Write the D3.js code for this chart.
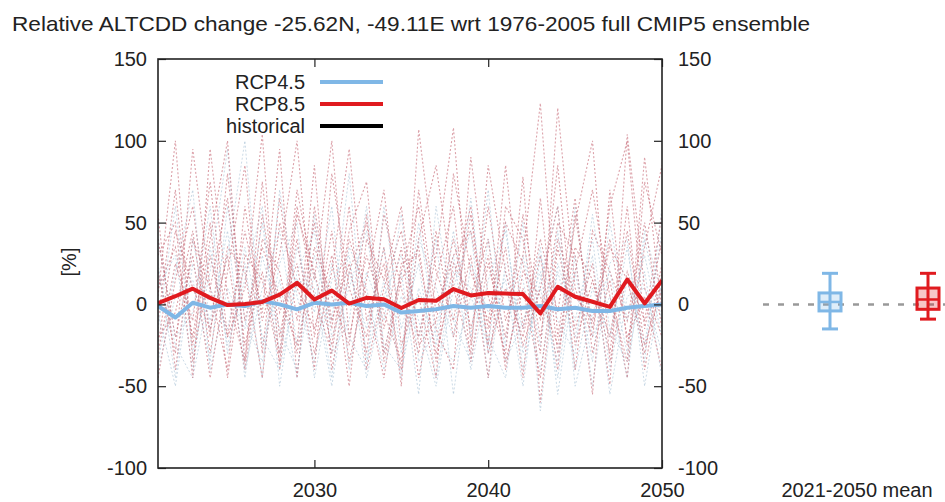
<!DOCTYPE html>
<html>
<head>
<meta charset="utf-8">
<script src="https://cdn.jsdelivr.net/npm/d3@7"></script>
<style>
  html, body { margin: 0; padding: 0; background: #fff; }
  svg { display: block; font-family: "Liberation Sans", Arial, Helvetica, sans-serif; }
</style>
</head>
<body>
<svg id="chart" width="945" height="502"></svg>
<script>
// ---------------- DATA ----------------
const title = "Relative ALTCDD change -25.62N, -49.11E wrt 1976-2005 full CMIP5 ensemble";
const years = d3.range(2021, 2051);
const xTicks = [2030, 2040, 2050];
const yTicks = [-100, -50, 0, 50, 100, 150];
const yLabel = "[%]";
const legendNames = ["RCP4.5", "RCP8.5", "historical"];
const summaryLabel = "2021-2050 mean";

// ensemble means
const rcp85Mean = [0.7, 5, 9.6, 4, -0.4, 0.3, 1.5, 6, 13.2, 3, 8.5, 0.5, 4, 3.2, -2.2, 2.7, 2.2, 9.4, 5.5, 7, 6.6, 6.3, -5.5, 10.8, 4.7, 1.6, -1.5, 15.2, 0.6, 14.6];
const rcp45Mean = [-1, -8, 1, -2, 0, -1, 2, 0, -3, 1, 0, 1, -1, 0, -5, -4, -3, -1, -2, -1, -2, -2, -1, -3, -2, -4, -4, -2, -1, 0];

// individual RCP8.5 members
const rcp85Members = [
  [20, -30, 95, 10, -40, 60, -10, 30, 100, -20, 45, -35, 15, 70, -25, 5, -45, 80, 20, -10, 50, 25, -30, 120, 10, -20, 60, 100, -15, 40],
  [-10, 70, -25, 40, 100, -35, 55, -5, 25, -40, 80, 10, -20, 35, -50, 107, 20, -10, 55, -25, 85, -15, 40, -5, 65, -30, 15, -45, 75, 30],
  [40, -20, 30, -45, 20, 85, -30, 65, -10, 50, -15, 60, -40, 10, 45, -20, 30, 108, -25, 60, -10, 30, 123, -20, 50, 100, -35, 20, -10, 55],
  [-30, 25, -10, 75, -20, 10, 104, -40, 55, 20, -25, 45, 75, -30, 20, 60, -15, -40, 90, 5, -30, 78, -60, 35, -15, 25, -49, 104, 10, -20],
  [55, -40, 40, 10, 65, -25, 20, -30, 70, 15, 100, -20, 30, -5, -35, 40, 85, 10, -30, 85, 20, -25, 10, 60, -40, 45, 20, -10, 50, -15],
  [5, 100, -35, 30, -20, 45, -5, 95, -45, 60, -10, 25, -30, 55, 10, -30, 45, -20, 30, -45, 60, 40, -20, 50, 30, -55, 70, -25, 35, 85],
  [-45, 15, 60, -20, 80, -10, 35, 5, -25, 85, -40, 20, 50, -15, 35, -45, 15, 60, -35, 25, -20, 55, -10, 85, -25, 15, -30, 60, -40, 20],
  [30, 50, -45, 95, 5, -35, 75, -20, 40, -30, 20, 95, -10, 25, -40, 70, -5, 30, 45, -15, 35, -45, 65, -30, 20, 70, 5, -35, 90, -5],
  [-20, -5, 45, -30, 35, 20, -45, 50, 10, -15, 30, -50, 40, 15, 60, -25, -10, 40, -15, 30, -35, 10, -45, 40, 5, -10, 35, 15, -30, 25],
  [10, 35, -20, 50, -45, 30, 15, -35, 60, 5, -30, 40, 5, -45, 25, 30, -30, 15, 60, -30, 10, -20, 30, -40, 55, -15, 40, -20, 5, -40],
  [-25, 45, 10, -15, 30, -40, 40, 20, -30, 35, 5, -25, 55, -35, 15, 35, -35, 25, 5, 40, -40, 20, 5, -25, 35, 15, -20, 45, -25, 10]
];

// individual RCP4.5 members
const rcp45Members = [
  [-15, 60, -30, 20, 95, -40, 10, 45, -25, 30, -10, 80, -35, 15, -45, 40, 10, -20, 65, -30, 20, -15, 35, -55, 20, -35, 50, -10, 30, -20],
  [25, -45, 40, -15, 30, 100, -25, 15, -45, 55, -20, 10, 45, -30, 20, -55, 60, -10, -35, 40, -25, 50, -65, 25, -10, 40, -40, 15, -25, 45],
  [-35, 20, 70, -40, 10, -15, 50, -30, 35, -5, 60, -40, 20, -10, 55, -35, -15, 30, -40, 15, 45, -30, 10, -35, 60, -20, 5, -45, 40, -10],
  [40, -20, -5, 60, -30, 25, -45, 70, 5, -35, 25, -20, -40, 60, -15, 25, -45, 20, 10, -20, -45, 30, -25, 45, -40, 10, -20, 35, -35, 60],
  [-5, -50, 25, -10, 45, -45, 30, -15, -40, 20, -45, 35, 10, -40, 5, -20, 40, -55, 25, -5, 15, -50, 30, -10, -30, 55, -15, -35, 20, -45],
  [10, 30, -40, 35, -25, 15, 60, -50, 20, 45, -30, -10, 60, -25, -40, 10, -25, 45, -20, 70, -35, -10, 20, -45, 30, -50, 25, 40, -50, 15],
  [-40, 5, 15, -35, 60, -10, -35, 25, 50, -45, 15, 30, -45, 5, 30, -10, -50, 10, 45, -45, 25, 15, -40, 20, -20, 30, -55, 5, 10, -30],
  [20, -25, -45, 10, -15, 35, -20, -40, 15, 10, -50, 20, -15, 35, -30, 50, -20, -35, 5, -25, 50, -40, 15, 60, -50, -5, 20, -30, 45, 5]
];

// 2021-2050 mean summary (box plots)
const summaryScenarios = ["RCP4.5", "RCP8.5"];
const summaryWhiskerLow = [-15, -9];
const summaryQ1 = [-4, -3];
const summaryMedian = [1.5, 3];
const summaryQ3 = [7, 10];
const summaryWhiskerHigh = [19, 19];

// ---------------- STYLE ----------------
const colors = { "RCP4.5": "#7fb7e6", "RCP8.5": "#e01a1f", "historical": "#000000" };
const memberColors = { "RCP4.5": "#a9c2d6", "RCP8.5": "#c9707d" };

// ---------------- LAYOUT ----------------
const svg = d3.select("#chart");
const plot = { left: 158, right: 662, top: 59, bottom: 468 };
const fontSize = 20;
const fmt = d => String(d); // plain hyphen-minus as in the reference

const x = d3.scaleLinear().domain([2021, 2050]).range([plot.left, plot.right]);
const y = d3.scaleLinear().domain([-100, 150]).range([plot.bottom, plot.top]);

// title
svg.append("text")
  .attr("x", 12).attr("y", 31)
  .attr("font-size", 21)
  .attr("textLength", 798)
  .attr("lengthAdjust", "spacingAndGlyphs")
  .attr("fill", "#222")
  .text(title);

// clip
svg.append("clipPath").attr("id", "plotclip")
  .append("rect")
  .attr("x", plot.left).attr("y", plot.top)
  .attr("width", plot.right - plot.left).attr("height", plot.bottom - plot.top);

const line = d3.line().x((d, i) => x(years[i])).y(d => y(d));
const g = svg.append("g").attr("clip-path", "url(#plotclip)");

// members
g.selectAll("path.m45").data(rcp45Members).join("path")
  .attr("class", "m45")
  .attr("d", line)
  .attr("fill", "none")
  .attr("stroke", memberColors["RCP4.5"])
  .attr("stroke-opacity", 0.6)
  .attr("stroke-width", 1)
  .attr("stroke-dasharray", "2,2");

g.selectAll("path.m85").data(rcp85Members).join("path")
  .attr("class", "m85")
  .attr("d", line)
  .attr("fill", "none")
  .attr("stroke", memberColors["RCP8.5"])
  .attr("stroke-opacity", 0.65)
  .attr("stroke-width", 1.1)
  .attr("stroke-dasharray", "2,2");

// means
g.append("path").datum(rcp45Mean)
  .attr("d", line).attr("fill", "none")
  .attr("stroke", colors["RCP4.5"]).attr("stroke-width", 4)
  .attr("stroke-linejoin", "round");

g.append("path").datum(rcp85Mean)
  .attr("d", line).attr("fill", "none")
  .attr("stroke", colors["RCP8.5"]).attr("stroke-width", 4)
  .attr("stroke-linejoin", "round");

// axes
const tickLen = 8;
const axL = svg.append("g").attr("transform", `translate(${plot.left},0)`)
  .call(d3.axisLeft(y).tickValues(yTicks).tickFormat(fmt).tickSize(-tickLen).tickPadding(11).tickSizeOuter(0));
const axR = svg.append("g").attr("transform", `translate(${plot.right},0)`)
  .call(d3.axisRight(y).tickValues(yTicks).tickFormat(fmt).tickSize(-tickLen).tickPadding(16).tickSizeOuter(0));
const axB = svg.append("g").attr("transform", `translate(0,${plot.bottom})`)
  .call(d3.axisBottom(x).tickValues(xTicks).tickFormat(fmt).tickSize(-tickLen).tickPadding(15).tickSizeOuter(0));
const axT = svg.append("g").attr("transform", `translate(0,${plot.top})`)
  .call(d3.axisTop(x).tickValues(xTicks).tickFormat(() => "").tickSize(-tickLen).tickSizeOuter(0));

[axL, axR, axB, axT].forEach(a => {
  a.select(".domain").remove();
  a.selectAll("line").attr("stroke", "#222").attr("stroke-width", 1.2);
  a.selectAll("text").attr("font-size", fontSize).attr("fill", "#222")
    .attr("font-family", '"Liberation Sans", Arial, sans-serif');
});

// frame
svg.append("rect")
  .attr("x", plot.left).attr("y", plot.top)
  .attr("width", plot.right - plot.left).attr("height", plot.bottom - plot.top)
  .attr("fill", "none").attr("stroke", "#222").attr("stroke-width", 1.6);

// y label
svg.append("text")
  .attr("transform", `translate(76,262) rotate(-90)`)
  .attr("text-anchor", "middle")
  .attr("font-size", fontSize).attr("fill", "#222")
  .text(yLabel);

// legend
const legend = svg.append("g");
legendNames.forEach((name, i) => {
  const ly = 82 + i * 22;
  legend.append("text")
    .attr("x", 305).attr("y", ly + 7)
    .attr("text-anchor", "end")
    .attr("font-size", fontSize).attr("fill", "#222")
    .text(name);
  legend.append("line")
    .attr("x1", 320).attr("x2", 383).attr("y1", ly).attr("y2", ly)
    .attr("stroke", colors[name]).attr("stroke-width", 4);
});

// summary panel
const xs = d3.scalePoint().domain(summaryScenarios).range([830, 928]);
svg.append("line")
  .attr("x1", 763).attr("x2", 945).attr("y1", y(0)).attr("y2", y(0))
  .attr("stroke", "#999").attr("stroke-width", 2.5).attr("stroke-dasharray", "6,9");

summaryScenarios.forEach((s, i) => {
  const cx = xs(s);
  const col = colors[s];
  const bg = svg.append("g");
  const boxW = 22, capW = 16;
  bg.append("line").attr("x1", cx).attr("x2", cx)
    .attr("y1", y(summaryWhiskerHigh[i])).attr("y2", y(summaryWhiskerLow[i]))
    .attr("stroke", col).attr("stroke-width", 3);
  [summaryWhiskerHigh[i], summaryWhiskerLow[i]].forEach(v => {
    bg.append("line").attr("x1", cx - capW / 2).attr("x2", cx + capW / 2)
      .attr("y1", y(v)).attr("y2", y(v))
      .attr("stroke", col).attr("stroke-width", 3);
  });
  bg.append("rect")
    .attr("x", cx - boxW / 2).attr("width", boxW)
    .attr("y", y(summaryQ3[i])).attr("height", y(summaryQ1[i]) - y(summaryQ3[i]))
    .attr("fill", col).attr("fill-opacity", 0.25)
    .attr("stroke", col).attr("stroke-width", 3);
  bg.append("line").attr("x1", cx - boxW / 2).attr("x2", cx + boxW / 2)
    .attr("y1", y(summaryMedian[i])).attr("y2", y(summaryMedian[i]))
    .attr("stroke", col).attr("stroke-width", 2.5);
});

svg.append("text")
  .attr("x", 857).attr("y", 497)
  .attr("text-anchor", "middle")
  .attr("font-size", fontSize).attr("fill", "#222")
  .text(summaryLabel);
</script>
</body>
</html>
